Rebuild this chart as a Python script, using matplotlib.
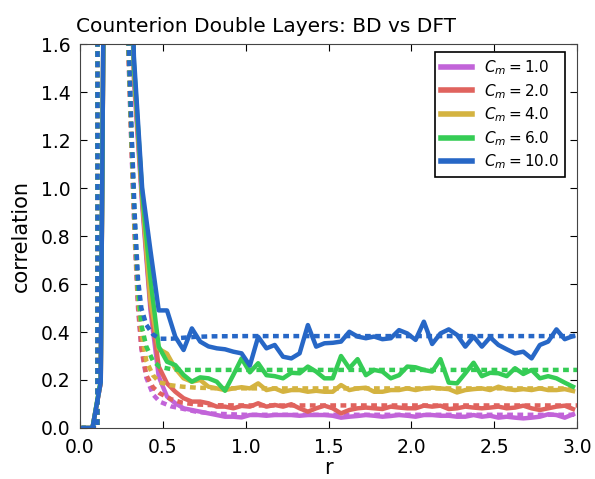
import matplotlib
matplotlib.use("Agg")
import matplotlib.pyplot as plt
from matplotlib.lines import Line2D

# BD sampling grid (bin centres)
r_bd = [0.025, 0.075, 0.125, 0.175, 0.225, 0.275, 0.325, 0.375, 0.425, 0.475,
        0.525, 0.575, 0.625, 0.675, 0.725, 0.775, 0.825, 0.875, 0.925, 0.975,
        1.025, 1.075, 1.125, 1.175, 1.225, 1.275, 1.325, 1.375, 1.425, 1.475,
        1.525, 1.575, 1.625, 1.675, 1.725, 1.775, 1.825, 1.875, 1.925, 1.975,
        2.025, 2.075, 2.125, 2.175, 2.225, 2.275, 2.325, 2.375, 2.425, 2.475,
        2.525, 2.575, 2.625, 2.675, 2.725, 2.775, 2.825, 2.875, 2.925, 2.975]

bd_cm1 = [0.0, 0.0, 0.19, 4.8, 3.9, 2.9, 1.45, 0.93, 0.49, 0.214,
          0.131, 0.103, 0.082, 0.075, 0.068, 0.061, 0.054, 0.047, 0.047, 0.044,
          0.054, 0.054, 0.051, 0.054, 0.054, 0.054, 0.051, 0.054, 0.054, 0.054,
          0.051, 0.043, 0.047, 0.050, 0.054, 0.051, 0.047, 0.050, 0.054, 0.051,
          0.047, 0.054, 0.054, 0.051, 0.051, 0.047, 0.047, 0.054, 0.047, 0.051,
          0.043, 0.047, 0.043, 0.040, 0.043, 0.047, 0.057, 0.054, 0.043, 0.057]
bd_cm2 = [0.0, 0.0, 0.19, 4.8, 3.9, 2.9, 1.48, 0.95, 0.51, 0.256,
          0.186, 0.151, 0.124, 0.110, 0.110, 0.103, 0.089, 0.089, 0.082, 0.092,
          0.089, 0.103, 0.089, 0.096, 0.089, 0.099, 0.082, 0.068, 0.082, 0.093,
          0.082, 0.061, 0.075, 0.082, 0.085, 0.082, 0.079, 0.089, 0.085, 0.082,
          0.082, 0.093, 0.089, 0.093, 0.079, 0.082, 0.089, 0.085, 0.082, 0.085,
          0.089, 0.082, 0.085, 0.093, 0.082, 0.075, 0.082, 0.089, 0.093, 0.079]
bd_cm4 = [0.0, 0.0, 0.19, 4.8, 3.9, 2.9, 1.50, 0.96, 0.53, 0.330,
          0.310, 0.248, 0.207, 0.193, 0.200, 0.172, 0.165, 0.158, 0.165, 0.170,
          0.165, 0.186, 0.158, 0.165, 0.151, 0.158, 0.158, 0.151, 0.155, 0.151,
          0.151, 0.179, 0.158, 0.165, 0.168, 0.151, 0.151, 0.158, 0.158, 0.165,
          0.158, 0.165, 0.168, 0.165, 0.162, 0.148, 0.158, 0.162, 0.165, 0.158,
          0.172, 0.162, 0.158, 0.162, 0.158, 0.165, 0.158, 0.158, 0.162, 0.154]
bd_cm6 = [0.0, 0.0, 0.20, 4.8, 3.9, 2.9, 1.52, 0.98, 0.62, 0.339,
          0.276, 0.262, 0.221, 0.193, 0.211, 0.207, 0.193, 0.155, 0.221, 0.290,
          0.232, 0.270, 0.220, 0.216, 0.207, 0.230, 0.228, 0.256, 0.235, 0.207,
          0.207, 0.300, 0.249, 0.287, 0.220, 0.242, 0.235, 0.207, 0.220, 0.256,
          0.253, 0.242, 0.235, 0.287, 0.189, 0.186, 0.228, 0.272, 0.216, 0.230,
          0.228, 0.216, 0.249, 0.225, 0.242, 0.207, 0.216, 0.207, 0.189, 0.172]
bd_cm10 = [0.0, 0.0, 0.19, 4.9, 4.0, 3.0, 1.55, 1.00, 0.74, 0.490,
           0.490, 0.380, 0.325, 0.415, 0.360, 0.340, 0.332, 0.328, 0.318, 0.311,
           0.260, 0.380, 0.332, 0.346, 0.297, 0.290, 0.311, 0.429, 0.339, 0.353,
           0.355, 0.360, 0.401, 0.381, 0.374, 0.381, 0.370, 0.374, 0.408, 0.394,
           0.367, 0.443, 0.350, 0.394, 0.411, 0.388, 0.339, 0.381, 0.339, 0.378,
           0.346, 0.328, 0.311, 0.318, 0.290, 0.346, 0.360, 0.411, 0.370, 0.383]

# DFT profiles
r_dft = [0.0, 0.105, 0.11, 0.2, 0.29, 0.31, 0.33, 0.35, 0.37, 0.40, 0.44,
         0.48, 0.55, 0.62, 0.70, 0.80, 1.0, 1.5, 2.0, 2.5, 3.0]
dft_cm1 = [0, 0, 20, 4.0, 1.60, 1.17, 0.79, 0.50, 0.33, 0.21, 0.14,
           0.11, 0.09, 0.08, 0.068, 0.06, 0.055, 0.055, 0.055, 0.055, 0.055]
dft_cm2 = [0, 0, 20, 4.0, 1.62, 1.19, 0.81, 0.52, 0.34, 0.22, 0.17,
           0.145, 0.12, 0.105, 0.098, 0.095, 0.094, 0.094, 0.094, 0.094, 0.094]
dft_cm4 = [0, 0, 20, 4.0, 1.64, 1.21, 0.83, 0.55, 0.40, 0.28, 0.22,
           0.19, 0.178, 0.172, 0.168, 0.166, 0.165, 0.165, 0.165, 0.165, 0.165]
dft_cm6 = [0, 0, 20, 4.0, 1.66, 1.23, 0.86, 0.58, 0.43, 0.34, 0.28,
           0.255, 0.245, 0.242, 0.242, 0.242, 0.242, 0.242, 0.242, 0.242, 0.242]
dft_cm10 = [0, 0, 20, 4.0, 1.68, 1.26, 0.89, 0.62, 0.50, 0.43, 0.39,
            0.372, 0.372, 0.376, 0.38, 0.382, 0.383, 0.383, 0.383, 0.383, 0.383]

labels = ["$C_m = 1.0$", "$C_m = 2.0$", "$C_m = 4.0$", "$C_m = 6.0$", "$C_m = 10.0$"]
colors = ["#c264d9", "#e0635e", "#d4b340", "#35cc55", "#2767c6"]
bd_sets = [bd_cm1, bd_cm2, bd_cm4, bd_cm6, bd_cm10]
dft_sets = [dft_cm1, dft_cm2, dft_cm4, dft_cm6, dft_cm10]

fig = plt.figure(figsize=(5.95, 4.79), dpi=100)
ax = fig.add_axes([0.1345, 0.1065, 0.8355, 0.8015])

for bd, dft, c in zip(bd_sets, dft_sets, colors):
    ax.plot(r_bd, bd, color=c, lw=3.2)
    ax.plot(r_dft, dft, color=c, lw=3.2, linestyle=(0, (1.3, 1.0)))

ax.set_xlim(0, 3)
ax.set_ylim(0, 1.6)
ax.set_xticks([0.0, 0.5, 1.0, 1.5, 2.0, 2.5, 3.0])
ax.set_yticks([0.0, 0.2, 0.4, 0.6, 0.8, 1.0, 1.2, 1.4, 1.6])
ax.tick_params(direction="in", top=True, right=True, labelsize=13.5, length=5, pad=7)
for s in ax.spines.values():
    s.set_color("#444444")

ax.set_xlabel("r", fontsize=15, labelpad=1)
ax.set_ylabel("correlation", fontsize=15, labelpad=7)
ax.set_title("Counterion Double Layers: BD vs DFT", fontsize=14.5, x=0.374, pad=9)

handles = [Line2D([], [], color=c, lw=4) for c in colors]
leg = ax.legend(handles, labels, loc="upper right", bbox_to_anchor=(0.976, 0.979),
                borderaxespad=0, fontsize=11, fancybox=False,
                edgecolor="black", framealpha=1, handlelength=2.0,
                labelspacing=0.32, borderpad=0.4)
leg.get_frame().set_linewidth(1.2)

fig.savefig("out.png", dpi=100)
